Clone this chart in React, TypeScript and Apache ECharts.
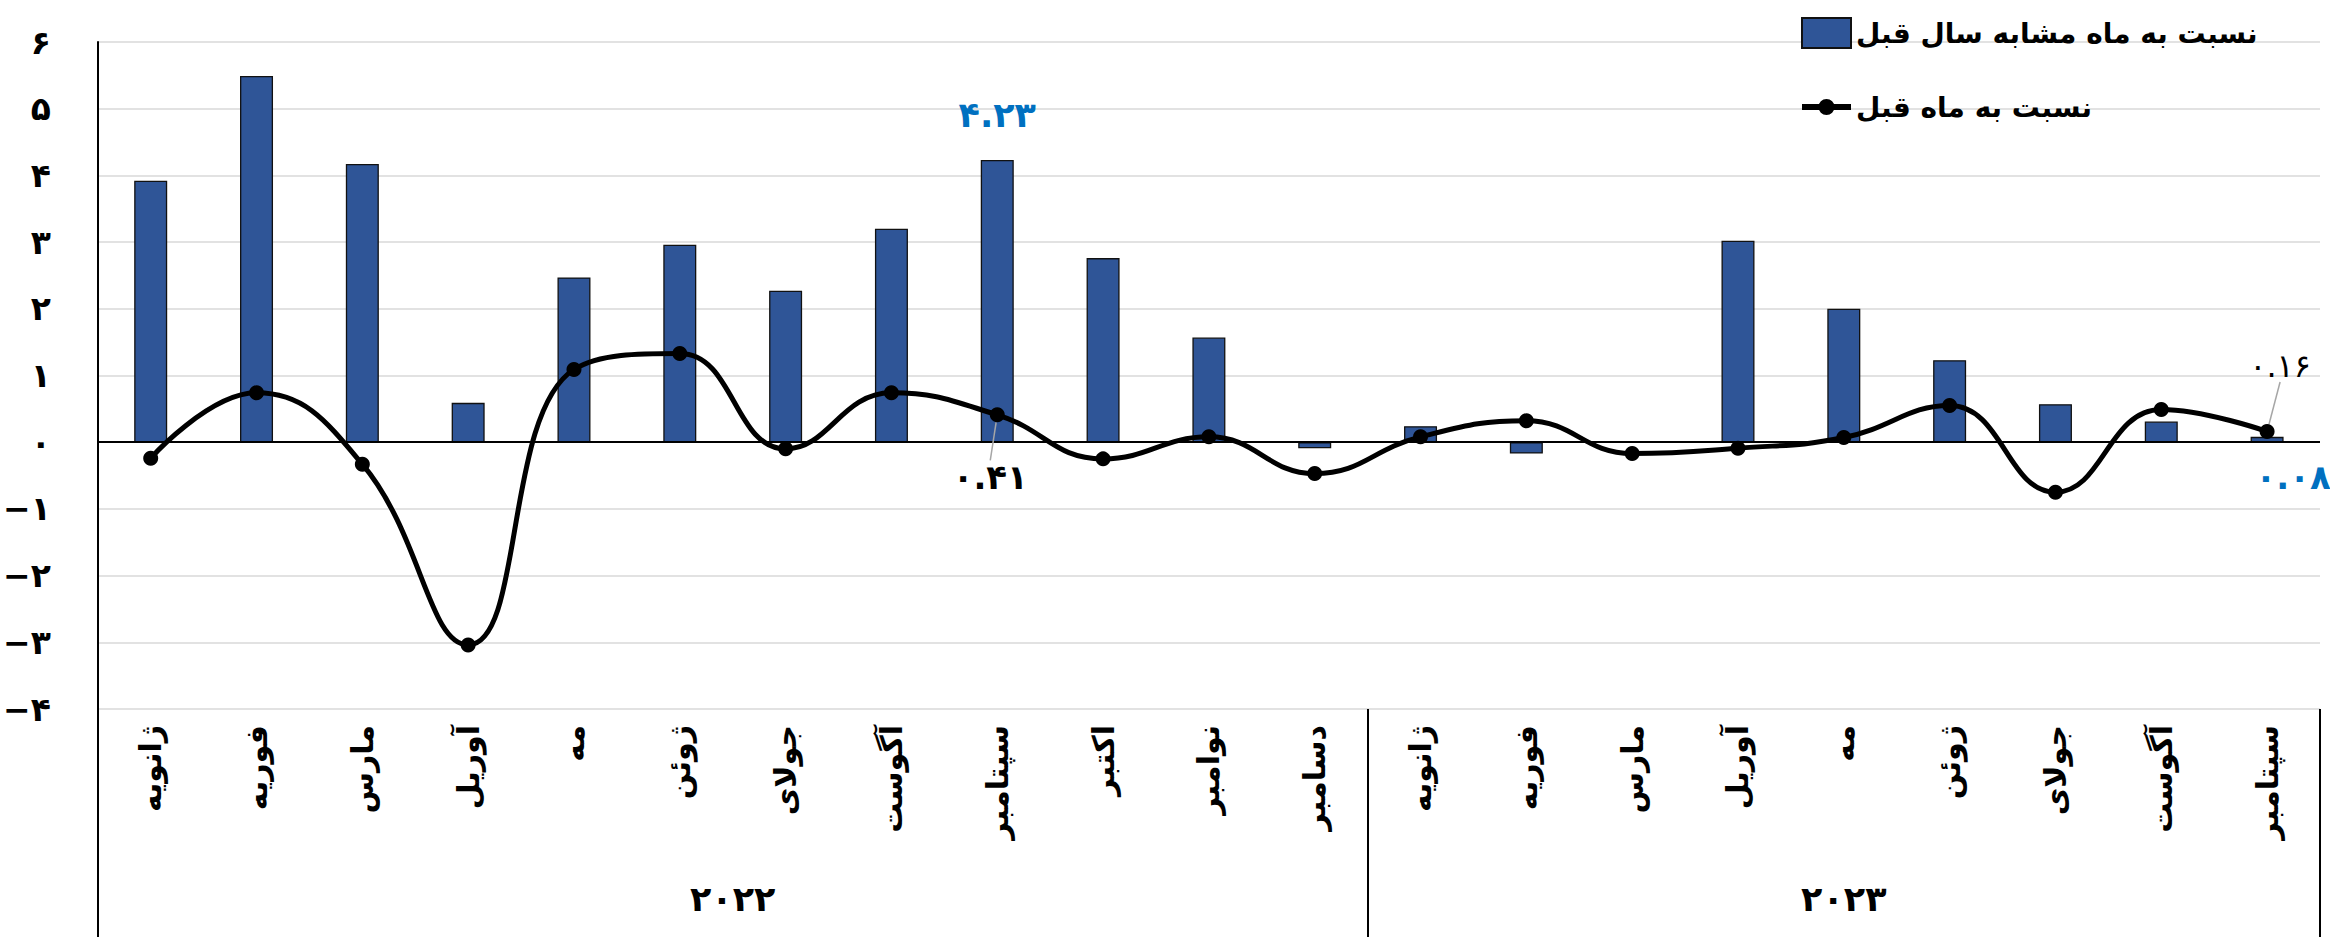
import React, { useEffect, useRef } from "react";
import * as echarts from "echarts";

const months2022 = ["ژانویه", "فوریه", "مارس", "آوریل", "مه", "ژوئن", "جولای", "آگوست", "سپتامبر", "اکتبر", "نوامبر", "دسامبر"];
const months2023 = ["ژانویه", "فوریه", "مارس", "آوریل", "مه", "ژوئن", "جولای", "آگوست", "سپتامبر"];
const categories = [...months2022, ...months2023];
const years = ["۲۰۲۲", "۲۰۲۳"];
const yearSizes = [months2022.length, months2023.length];

// نسبت به ماه مشابه سال قبل
const yoy = [3.92, 5.49, 4.17, 0.59, 2.47, 2.96, 2.27, 3.2, 4.23, 2.76, 1.57, -0.09, 0.24, -0.17, 0, 3.02, 2.0, 1.23, 0.57, 0.31, 0.08];
// نسبت به ماه قبل
const mom = [-0.24, 0.74, -0.33, -3.04, 1.09, 1.33, -0.1, 0.74, 0.41, -0.25, 0.08, -0.47, 0.08, 0.32, -0.17, -0.09, 0.07, 0.55, -0.75, 0.49, 0.16];

const yTicks = { min: -4, max: 6, interval: 1 };
const barName = "نسبت به ماه مشابه سال قبل";
const lineName = "نسبت به ماه قبل";

const FONT = "DejaVu Sans";
const toFa = (s: string) => s.replace(/\d/g, (d) => "۰۱۲۳۴۵۶۷۸۹"[+d]);

const LINE_ICON =
  "path://M0,12 L18,12 L18,18 L0,18 Z M31,12 L49,12 L49,18 L31,18 Z M16.5,15 A8,8 0 1,1 32.5,15 A8,8 0 1,1 16.5,15 Z";

export default function App() {
  const ref = useRef<HTMLDivElement>(null);
  useEffect(() => {
    if (!ref.current) return;
    const chart = echarts.init(ref.current, undefined, { renderer: "svg" });

    const bounds: number[] = [0];
    yearSizes.forEach((n) => bounds.push(bounds[bounds.length - 1] + n));
    const centers = yearSizes.map((n, i) => bounds[i] + n / 2);
    const yearAt = (v: number) => {
      const i = centers.findIndex((c) => Math.abs(c - v) < 1e-6);
      return i >= 0 ? years[i] : "";
    };

    const lastIdx = categories.length - 1;
    const peakIdx = 8;

    const barData = yoy.map((v, i) => {
      if (i === peakIdx) {
        return {
          value: v,
          label: { show: true, position: "top", distance: 28, color: "#0070C0", fontSize: 35, fontWeight: "bold", fontFamily: FONT, formatter: (p: any) => toFa(p.value.toFixed(2)) },
        };
      }
      if (i === lastIdx) {
        return {
          value: v,
          label: { show: true, position: "bottom", distance: 18, offset: [26, 0], color: "#0070C0", fontSize: 34, fontWeight: "bold", fontFamily: FONT, formatter: (p: any) => toFa(p.value.toFixed(2)) },
        };
      }
      return v;
    });

    const lineData = mom.map((v, i) => {
      if (i === peakIdx) {
        return { value: v, label: { show: true, position: "bottom", fontWeight: "bold", fontSize: 34 } };
      }
      if (i === lastIdx) {
        return { value: v, label: { show: true, position: "top", fontWeight: "normal", fontSize: 32 } };
      }
      return v;
    });

    chart.setOption({
      animation: false,
      backgroundColor: "#fff",
      textStyle: { fontFamily: FONT },
      grid: { left: 97, right: 10, top: 42, bottom: 228, containLabel: false },
      legend: {
        orient: "vertical",
        left: 1796,
        top: 12,
        itemWidth: 49,
        itemHeight: 30,
        itemGap: 43,
        textStyle: { fontSize: 28, fontWeight: "bold", fontFamily: FONT, color: "#000", lineHeight: 30 },
        data: [
          { name: barName, icon: "rect" },
          { name: lineName, icon: LINE_ICON, itemStyle: { color: "#000", borderWidth: 0 } },
        ],
      },
      xAxis: [
        {
          type: "category",
          data: categories,
          position: "bottom",
          axisLine: { show: false, onZero: false },
          axisTick: { show: false },
          axisLabel: { rotate: 90, margin: 16, fontSize: 30, fontWeight: "bold", color: "#000", fontFamily: FONT, interval: 0 },
          splitLine: { show: false },
        },
        {
          type: "value",
          min: 0,
          max: categories.length,
          position: "bottom",
          axisLine: { show: false, onZero: false },
          splitLine: { show: false },
          axisTick: { show: true, customValues: bounds, length: 228, inside: false, lineStyle: { color: "#000", width: 2 } },
          axisLabel: { show: true, customValues: centers, margin: 172, fontSize: 35, fontWeight: "bold", color: "#000", fontFamily: FONT, formatter: (v: number) => yearAt(v) },
        },
      ],
      yAxis: {
        type: "value",
        min: yTicks.min,
        max: yTicks.max,
        interval: yTicks.interval,
        axisLine: { show: true, lineStyle: { color: "#000", width: 2 } },
        axisTick: { show: false },
        axisLabel: {
          margin: 47,
          fontSize: 33,
          fontWeight: "bold",
          color: "#000",
          fontFamily: FONT,
          formatter: (v: number) => (v < 0 ? "−" + toFa(String(-v)) : toFa(String(v))),
        },
        splitLine: { show: true, lineStyle: { color: "#D9D9D9", width: 1.5 } },
      },
      series: [
        {
          name: barName,
          type: "bar",
          xAxisIndex: 0,
          data: barData,
          barWidth: 33,
          itemStyle: { color: "#2F5597", borderColor: "#111", borderWidth: 1.3 },
          markLine: {
            silent: true,
            symbol: "none",
            label: { show: false },
            lineStyle: { color: "#000", width: 2, type: "solid" },
            data: [{ yAxis: 0 }],
          },
        },
        {
          name: lineName,
          type: "line",
          xAxisIndex: 0,
          data: lineData,
          smooth: 0.45,
          symbol: "circle",
          symbolSize: 15,
          lineStyle: { color: "#000", width: 5 },
          itemStyle: { color: "#000" },
          label: {
            show: false,
            color: "#000",
            fontSize: 32,
            fontFamily: FONT,
            formatter: (p: any) => toFa(p.value.toFixed(2)),
          },
          labelLine: { show: true, lineStyle: { color: "#A6A6A6", width: 1.5 } },
          labelLayout: (p: any) => {
            if (p.dataIndex === peakIdx) return { dx: -7, dy: 33 };
            if (p.dataIndex === lastIdx) return { dx: 13, dy: -37 };
            return {};
          },
          z: 5,
        },
      ],
    });
    return () => chart.dispose();
  }, []);
  return <div ref={ref} style={{ position: "fixed", left: 0, top: 0, width: 2330, height: 937 }} />;
}
